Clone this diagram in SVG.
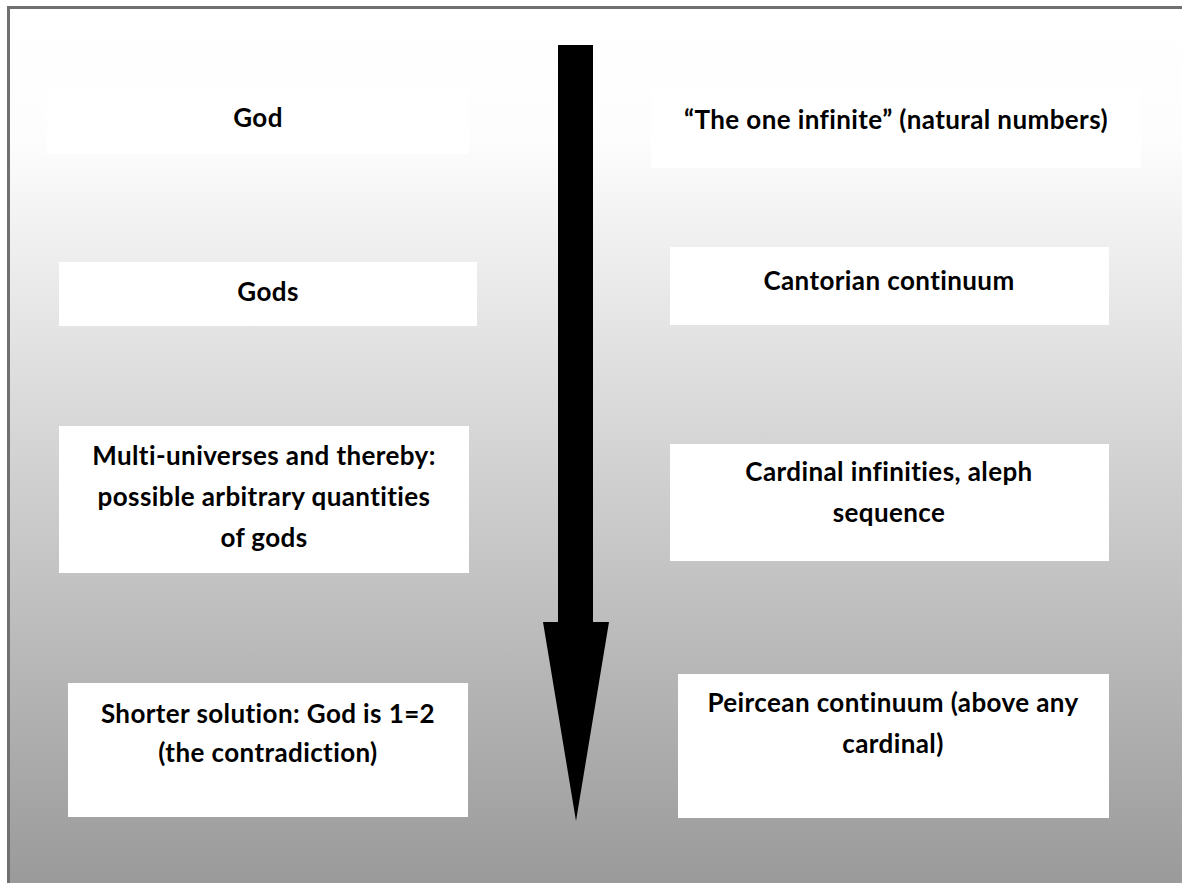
<svg xmlns="http://www.w3.org/2000/svg" width="1182" height="883" viewBox="0 0 1182 883">
<defs>
<linearGradient id="bg" gradientUnits="userSpaceOnUse" x1="0" y1="8" x2="0" y2="883">
<stop offset="0" stop-color="#ffffff"/>
<stop offset="0.15" stop-color="#fdfdfd"/>
<stop offset="1" stop-color="#9a9a9a"/>
</linearGradient>
<style>
.box{fill:#ffffff;}
.t{font-family:Lato,"Liberation Sans",sans-serif;font-weight:bold;font-size:26px;letter-spacing:0.4px;font-variant-ligatures:none;fill:#000;text-anchor:middle;}
</style>
</defs>
<rect x="8.5" y="7.5" width="1200" height="900" fill="url(#bg)" stroke="#707070" stroke-width="3"/>
<g id="connectors">
<path d="M558,45 L593,45 L593,622 L609,622 L576,821 L543,622 L558,622 Z" fill="#000"/>
</g>
<g id="god">
<rect class="box" x="47" y="88" width="422" height="66"/>
<text class="t" x="258" y="127">God</text>
</g>
<g id="one-infinite">
<rect class="box" x="651" y="88" width="490" height="80"/>
<text class="t" x="896" y="129">“The one infinite” (natural numbers)</text>
</g>
<g id="gods">
<rect class="box" x="59" y="262" width="418" height="64"/>
<text class="t" x="268" y="301">Gods</text>
</g>
<g id="cantorian">
<rect class="box" x="670" y="247" width="439" height="78"/>
<text class="t" x="889" y="290">Cantorian continuum</text>
</g>
<g id="multi">
<rect class="box" x="59" y="426" width="410" height="147"/>
<text class="t" x="264" y="465">Multi-universes and thereby:</text>
<text class="t" x="264" y="506">possible arbitrary quantities</text>
<text class="t" x="264" y="547">of gods</text>
</g>
<g id="cardinal">
<rect class="box" x="670" y="444" width="439" height="117"/>
<text class="t" x="889" y="481">Cardinal infinities, aleph</text>
<text class="t" x="889" y="522">sequence</text>
</g>
<g id="shorter">
<rect class="box" x="68" y="683" width="400" height="134"/>
<text class="t" x="268" y="723">Shorter solution: God is 1=2</text>
<text class="t" x="268" y="762">(the contradiction)</text>
</g>
<g id="peircean">
<rect class="box" x="678" y="674" width="431" height="144"/>
<text class="t" x="893" y="712">Peircean continuum (above any</text>
<text class="t" x="893" y="753">cardinal)</text>
</g>
</svg>
